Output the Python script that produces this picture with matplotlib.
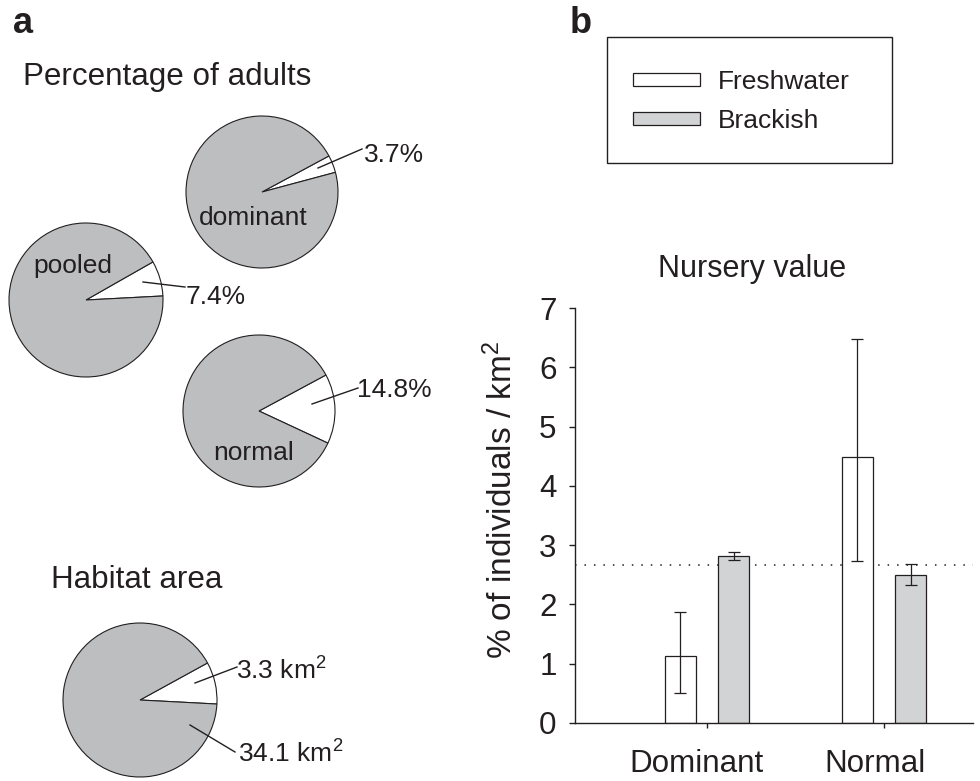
import numpy as np
import matplotlib
matplotlib.use("Agg")
import matplotlib.pyplot as plt
from matplotlib.patches import Rectangle
from matplotlib.transforms import ScaledTranslation

plt.rcParams["font.family"] = ["Liberation Sans", "DejaVu Sans"]
plt.rcParams["mathtext.fontset"] = "custom"
plt.rcParams["mathtext.rm"] = "Liberation Sans"
plt.rcParams["mathtext.it"] = "Liberation Sans:italic"

INK = "#231F20"
PIE_GRAY = "#BCBEC0"
BAR_GRAY = "#D1D3D4"

# ---- data ----
pie_groups = ["dominant", "pooled", "normal"]
adult_pct = [3.7, 7.4, 14.8]          # % adults from freshwater
habitat_labels = ["3.3 km$^2$", "34.1 km$^2$"]
habitat_area = [3.3, 34.1]            # freshwater, brackish (km2)

groups = ["Dominant", "Normal"]
fresh_mean = [1.13, 4.48]
fresh_lo = [0.50, 2.73]
fresh_hi = [1.88, 6.48]
brack_mean = [2.82, 2.50]
brack_lo = [2.75, 2.32]
brack_hi = [2.88, 2.68]
ref_line = 2.66

W, H = 980, 781
fig = plt.figure(figsize=(W / 100, H / 100), dpi=100)

# ---- panel a: pies, drawn in pixel coordinates ----
pa = fig.add_axes([0, 0, 1, 1])
pa.set_facecolor("none")

def py(y):
    return H - y

wp = dict(edgecolor=INK, linewidth=0.8)

# center x, center y (px from top), radius, start angle
pie_layout = {
    "dominant": (262, 192, 76, 15),
    "pooled": (86, 300, 77, 3),
    "normal": (259, 411, 76, -25),
}
for name, pct in zip(pie_groups, adult_pct):
    cx, cy, r, st = pie_layout[name]
    pa.pie([pct, 100 - pct], colors=["white", PIE_GRAY], startangle=st,
           center=(cx, py(cy)), radius=r, wedgeprops=wp, frame=True)

pa.pie(habitat_area, colors=["white", PIE_GRAY], startangle=-3,
       center=(140, py(700)), radius=77, wedgeprops=wp, frame=True)

pa.set_xlim(0, W)
pa.set_ylim(0, H)
pa.axis("off")

fs_lab = 19
fs_big = 22.6

# group names inside the pies
pa.text(253, py(225), "dominant", fontsize=fs_lab, color=INK, ha="center", va="baseline")
pa.text(73, py(273), "pooled", fontsize=fs_lab, color=INK, ha="center", va="baseline")
pa.text(254, py(460), "normal", fontsize=fs_lab, color=INK, ha="center", va="baseline")

# percentage labels with leader lines
pct_pos = {
    "dominant": ((318, 168), (362, 149), (364, 162)),
    "pooled": ((143, 282), (185, 287), (186, 304)),
    "normal": ((312, 404), (358, 388), (357, 397)),
}
for name, pct in zip(pie_groups, adult_pct):
    p0, p1, t = pct_pos[name]
    pa.plot([p0[0], p1[0]], [py(p0[1]), py(p1[1])], color=INK, lw=1.0)
    pa.text(t[0], py(t[1]), f"{pct}%", fontsize=fs_lab, color=INK,
            ha="left", va="baseline")

hab_pos = [((195, 683), (237, 667), (236, 680)),
           ((190, 725), (235, 752), (238, 763))]
for lab, (p0, p1, t) in zip(habitat_labels, hab_pos):
    pa.plot([p0[0], p1[0]], [py(p0[1]), py(p1[1])], color=INK, lw=1.0)
    pa.text(t[0], py(t[1]), lab, fontsize=fs_lab, color=INK, ha="left", va="baseline")

pa.text(23, py(85), "Percentage of adults", fontsize=fs_big, color=INK, ha="left", va="baseline")
pa.text(51, py(588), "Habitat area", fontsize=fs_big, color=INK, ha="left", va="baseline")
pa.text(13, py(33), "a", fontsize=26, fontweight="bold", color=INK, ha="left", va="baseline")
pa.text(570, py(33), "b", fontsize=26, fontweight="bold", color=INK, ha="left", va="baseline")
pa.text(752, py(277), "Nursery value", fontsize=22, color=INK, ha="center", va="baseline")

# ---- panel b: bars ----
ax = fig.add_axes([575 / W, (H - 723) / H, 398 / W, 415 / H])
ax.set_facecolor("none")
x = np.arange(1, len(groups) + 1)
off, bw = 0.15, 0.18

ax.axhline(ref_line, color=INK, lw=1.1, linestyle=(0, (1, 5.2)), zorder=1)

fm, bm = np.array(fresh_mean), np.array(brack_mean)
fresh_err = [fm - np.array(fresh_lo), np.array(fresh_hi) - fm]
brack_err = [bm - np.array(brack_lo), np.array(brack_hi) - bm]

b1 = ax.bar(x - off, fm, bw, color="white", edgecolor=INK, linewidth=0.9,
            label="Freshwater", zorder=2)
b2 = ax.bar(x + off, bm, bw, color=BAR_GRAY, edgecolor=INK, linewidth=0.9,
            label="Brackish", zorder=2)
ax.errorbar(x - off, fm, yerr=fresh_err, fmt="none", ecolor=INK, elinewidth=0.9,
            capsize=4.3, capthick=0.9, zorder=3)
ax.errorbar(x + off, bm, yerr=brack_err, fmt="none", ecolor=INK, elinewidth=0.9,
            capsize=4.3, capthick=0.9, zorder=3)

ax.set_xlim(0.254, 2.503)
ax.set_ylim(0, 7)
ax.set_yticks(range(0, 8))
ax.set_xticks(x)
ax.set_xticklabels(groups)
for s in ["top", "right"]:
    ax.spines[s].set_visible(False)
for s in ["left", "bottom"]:
    ax.spines[s].set_color(INK)
    ax.spines[s].set_linewidth(1.0)
ax.tick_params(axis="y", direction="out", length=4.3, width=1.0, colors=INK,
               labelsize=fs_big, pad=9)
ax.tick_params(axis="x", direction="out", length=3.6, width=1.0, colors=INK,
               labelsize=fs_big, pad=15)
# category names sit a little left of their ticks in the original
for lab, dx in zip(ax.get_xticklabels(), [-11, -9]):
    lab.set_transform(lab.get_transform() + ScaledTranslation(dx / 100, 0, fig.dpi_scale_trans))

fig.text(502 / W, 1 - 500 / H, "% of individuals / km$^2$", rotation=90,
         fontsize=24, color=INK, ha="center", va="center")

# legend box
fig.patches.append(Rectangle((607 / W, 1 - 163 / H), 285 / W, 126 / H,
                             transform=fig.transFigure, fill=False,
                             edgecolor=INK, linewidth=1.0))
fig.legend(handles=[b1, b2], loc="upper left",
           bbox_to_anchor=(633 / W, 1 - 70 / H), frameon=False,
           fontsize=fs_lab, handlelength=2.54, handleheight=0.38,
           handletextpad=0.68, labelspacing=0.57, borderpad=0, borderaxespad=0,
           labelcolor=INK)

fig.savefig("out.png", dpi=100)
